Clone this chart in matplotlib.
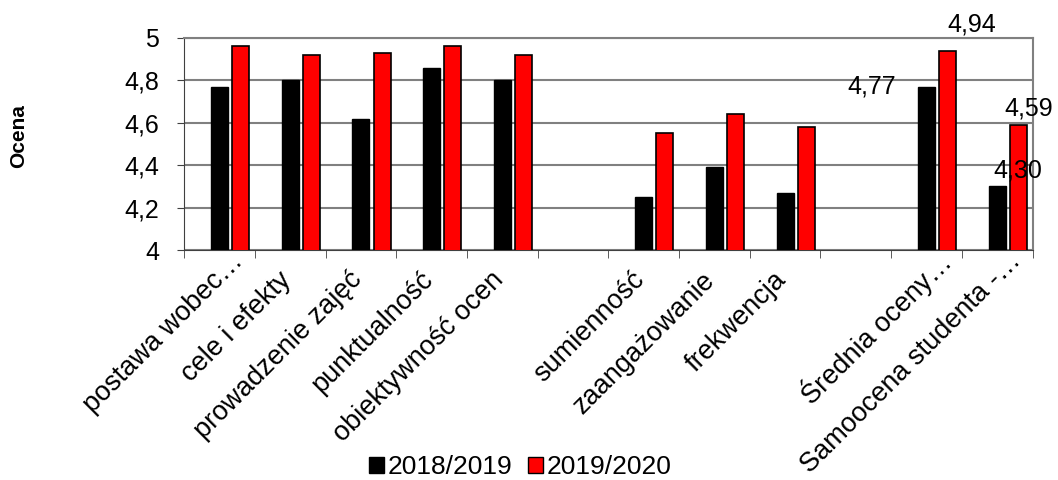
import matplotlib.pyplot as plt
import matplotlib.transforms as mtransforms
import numpy as np
from matplotlib.patches import Patch

plt.rcParams['font.family'] = ['Liberation Sans', 'DejaVu Sans']

categories = ['postawa wobec…', 'cele i efekty', 'prowadzenie zajęć', 'punktualność',
              'obiektywność ocen', '', 'sumienność', 'zaangażowanie', 'frekwencja', '',
              'Średnia oceny…', 'Samoocena studenta -…']
s2018 = [4.77, 4.80, 4.62, 4.86, 4.80, np.nan, 4.25, 4.39, 4.27, np.nan, 4.77, 4.30]
s2019 = [4.96, 4.92, 4.93, 4.96, 4.92, np.nan, 4.55, 4.64, 4.58, np.nan, 4.94, 4.59]

fig = plt.figure(figsize=(10.58, 4.8), dpi=100)
ax = fig.add_axes([0.174, 0.479, 0.802, 0.442])

x = np.arange(len(categories))
w = 0.24
ax.bar(x, s2018, width=w, color='black', edgecolor='black', linewidth=1, zorder=3)
ax.bar(x + 0.30, s2019, width=w, color='#ff0000', edgecolor='black', linewidth=1.2, zorder=3)

# data labels only on the last two groups
ax.text(10 - 0.43, s2018[10], '4,77', ha='right', va='center', fontsize=18)
ax.text(10 + 0.64, 5.005, '4,94', ha='center', va='bottom', fontsize=18, clip_on=False)
ax.text(11 + 0.29, 4.32, '4,30', ha='center', va='bottom', fontsize=18)
ax.text(11 + 0.10, 4.61, '4,59', ha='left', va='bottom', fontsize=18, clip_on=False)

ax.set_xlim(-0.5, len(categories) - 0.5)
ax.set_ylim(4, 5)
yt = np.arange(4, 5.01, 0.2)
ax.set_yticks(yt)
ax.set_yticklabels([('%g' % round(v, 1)).replace('.', ',') for v in yt], fontsize=18)
ax.yaxis.grid(True, color='#808080', linewidth=1.5, zorder=0)
ax.tick_params(axis='y', length=5, color='#404040', pad=13)

ax.set_xticks(x)
ax.set_xticklabels(categories, rotation=45, ha='right', va='center',
                   rotation_mode='anchor', fontsize=19.5)
ax.tick_params(axis='x', length=0, pad=0)
# truncated labels stick out further, like the spreadsheet did
for lab in ax.get_xticklabels():
    if lab.get_text().endswith('…'):
        shift = mtransforms.ScaledTranslation(0.20, -0.07, fig.dpi_scale_trans)
    else:
        shift = mtransforms.ScaledTranslation(-0.03, -0.26, fig.dpi_scale_trans)
    lab.set_transform(lab.get_transform() + shift)
# tick marks between categories
ax.set_xticks(np.arange(-0.5, len(categories), 1), minor=True)
ax.tick_params(axis='x', which='minor', length=6, color='#404040', direction='out')

for side in ['top', 'right']:
    ax.spines[side].set_color('#808080')
    ax.spines[side].set_linewidth(1.5)
for side in ['left', 'bottom']:
    ax.spines[side].set_color('#404040')

fig.text(0.018, 0.717, 'Ocena', rotation=90, fontsize=15, fontweight='bold',
         va='center', ha='center')

handles = [Patch(facecolor='black', edgecolor='black'),
           Patch(facecolor='#ff0000', edgecolor='black')]
fig.legend(handles, ['2018/2019', '2019/2020'], loc='center', bbox_to_anchor=(0.492, 0.027),
           ncol=2, frameon=False, fontsize=19, handlelength=0.55, handleheight=0.55,
           handletextpad=0.15, columnspacing=0.6, borderpad=0)

fig.savefig('out.png', dpi=100)
